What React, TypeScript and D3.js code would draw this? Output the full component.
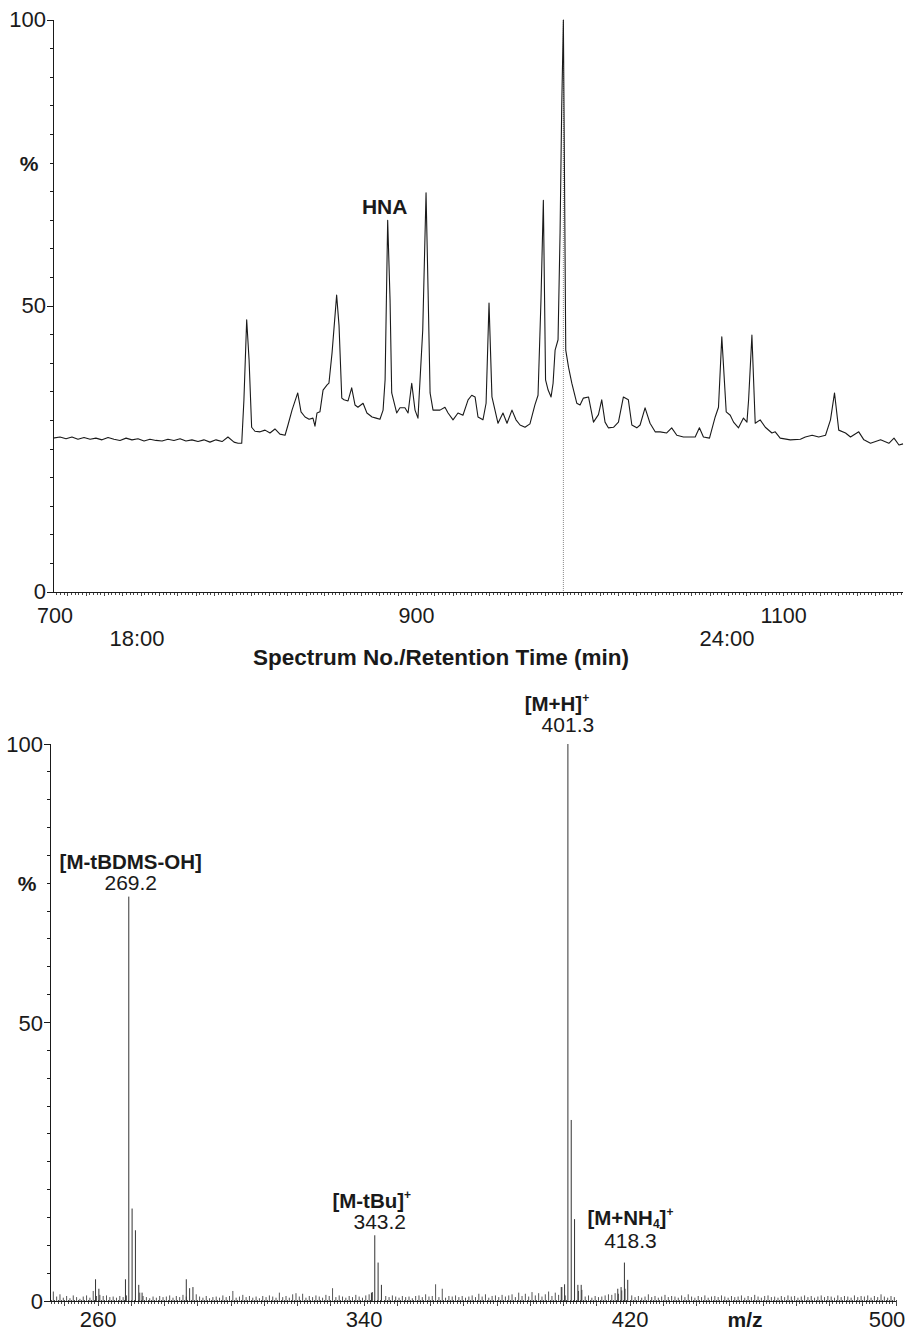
import React, { useEffect, useRef } from 'react';
import * as d3 from 'd3';

// chromatogram: [spectrum no., %]
const CHROM_TRACE: [number, number][] = [
  [702.0, 26.9], [705.8, 27.1], [709.1, 26.8], [712.3, 27.1], [715.6, 26.7], [718.9, 27.0],
  [722.2, 26.7], [725.4, 26.9], [728.7, 26.6], [732.0, 27.0], [735.2, 26.7], [738.5, 26.5],
  [741.8, 26.9], [745.0, 26.6], [748.3, 26.8], [751.6, 26.4], [754.8, 26.7], [758.1, 26.5],
  [761.4, 26.4], [764.6, 26.7], [767.9, 26.5], [771.2, 26.8], [774.4, 26.4], [777.7, 26.6],
  [781.0, 26.3], [784.2, 26.6], [787.5, 26.2], [790.8, 26.6], [794.1, 26.3], [797.3, 27.1],
  [800.6, 26.2], [802.8, 26.0], [804.8, 26.0], [806.0, 33.6], [807.5, 47.6], [808.8, 40.6],
  [810.2, 28.8], [812.0, 28.1], [814.8, 28.0], [817.5, 28.3], [820.2, 27.8], [822.9, 28.5],
  [825.6, 27.6], [828.4, 27.4], [830.0, 29.2], [832.2, 31.8], [835.3, 34.8], [837.1, 31.5],
  [839.3, 30.6], [841.5, 30.2], [843.6, 30.4], [844.7, 29.0], [845.8, 31.3], [847.4, 31.5],
  [849.1, 35.3], [851.3, 36.2], [852.3, 36.5], [854.0, 41.8], [856.5, 51.9], [857.8, 46.6],
  [859.3, 33.9], [860.5, 33.6], [862.7, 33.4], [864.7, 35.7], [866.5, 32.7], [868.1, 32.3],
  [870.9, 33.0], [873.0, 31.3], [875.8, 30.6], [878.0, 30.4], [880.1, 30.2], [881.8, 31.8],
  [882.9, 37.1], [884.3, 65.0], [885.6, 51.0], [886.5, 34.8], [889.2, 31.3], [891.0, 32.2],
  [893.7, 32.2], [895.4, 31.3], [897.4, 36.5], [899.2, 31.8], [900.8, 30.4], [903.4, 45.8],
  [905.2, 69.8], [906.3, 52.8], [907.4, 34.8], [909.0, 31.8], [912.8, 31.8], [915.5, 32.3],
  [917.2, 31.3], [919.9, 30.1], [922.6, 31.3], [925.3, 30.9], [928.1, 33.6], [930.1, 34.4],
  [931.9, 34.1], [933.5, 30.6], [936.2, 30.1], [937.9, 33.0], [939.5, 50.5], [941.1, 34.1],
  [944.4, 29.5], [947.1, 31.3], [949.3, 29.5], [952.0, 31.8], [954.2, 30.1], [956.4, 29.2],
  [959.1, 28.8], [961.8, 29.4], [964.5, 32.7], [966.2, 34.4], [967.8, 51.0], [969.1, 68.5],
  [970.3, 37.1], [971.7, 35.3], [973.3, 34.1], [974.4, 36.5], [975.5, 42.3], [977.1, 44.1],
  [978.2, 62.8], [979.1, 84.8], [980.0, 100], [981.3, 42.3], [982.8, 39.3], [984.6, 36.5],
  [987.3, 33.0], [989.1, 32.7], [990.9, 33.9], [993.7, 34.1], [996.4, 29.7], [999.1, 31.0],
  [1000.9, 33.6], [1002.7, 29.7], [1004.5, 28.7], [1007.3, 28.8], [1010.0, 29.7], [1012.7, 34.1],
  [1015.4, 33.6], [1017.3, 29.2], [1020.0, 28.7], [1021.8, 29.2], [1024.5, 32.2], [1027.2, 29.5],
  [1030.0, 28.0], [1032.7, 28.0], [1036.3, 27.8], [1039.0, 28.7], [1041.8, 27.4], [1045.4, 27.1],
  [1049.0, 27.1], [1051.8, 27.1], [1054.1, 28.7], [1056.3, 27.1], [1059.6, 26.9], [1062.7, 30.6],
  [1064.5, 32.3], [1066.3, 44.6], [1068.7, 31.5], [1070.9, 30.9], [1072.7, 29.7], [1075.4, 28.7],
  [1078.1, 30.4], [1080.0, 29.7], [1080.9, 33.6], [1082.7, 44.9], [1084.5, 29.5], [1087.2, 30.1],
  [1090.0, 28.8], [1093.6, 27.8], [1095.4, 28.0], [1098.1, 26.9], [1103.6, 26.6], [1109.1, 26.7],
  [1111.8, 27.1], [1115.5, 27.4], [1119.1, 27.1], [1122.8, 27.4], [1125.5, 30.1], [1127.7, 34.8],
  [1130.0, 28.3], [1133.7, 27.8], [1136.4, 27.1], [1140.9, 28.0], [1143.7, 26.6], [1147.3, 26.0],
  [1152.8, 26.6], [1157.3, 26.0], [1160.1, 26.9], [1162.8, 25.7], [1165.0, 25.9],
];

const SCAN_TICKS = [700, 900, 1100];
const TIME_TICKS = [18, 24];
const PCT_TICKS = [0, 50, 100];
const HNA_SCAN = 884.3;
const APEX_SCAN = 980.0;

// mass spectrum, labelled and satellite ions: [m/z, %]
const MS_PEAKS: [number, number][] = [
  [259.2, 3.9], [260.2, 2.2], [268.2, 3.9], [269.2, 72.6], [270.2, 16.6], [271.2, 12.7],
  [272.2, 2.9], [273.2, 1.5], [286.5, 3.9], [287.5, 2.3], [288.5, 2.5], [342.2, 1.5],
  [343.2, 11.8], [344.2, 6.9], [345.2, 2.9], [399.3, 2.5], [400.3, 3.0], [401.3, 100],
  [402.3, 32.5], [403.3, 14.7], [404.3, 2.9], [405.3, 2.9], [416.3, 2.2], [417.3, 2.5],
  [418.3, 6.9], [419.3, 3.8],
];

// baseline noise, one value per nominal mass from 246 to 499
const NOISE_START = 246;
const MS_NOISE = [
  1.7, 0.8, 1.2, 0.6,
  0.9, 0.5, 1.0, 0.7, 0.4, 0.8, 1.0, 0.6, 1.8, 0.9,
  1.1, 0.9, 1.0, 0.7, 0.8, 0.6, 0.9, 0.7, 1.0, 0.0,
  0.0, 0.0, 1.5, 0.9, 0.7, 0.5, 0.8, 0.6, 0.9, 0.7,
  0.8, 1.0, 0.6, 0.9, 0.7, 1.1, 0.8, 0.0, 0.0, 1.2,
  0.8, 0.6, 0.9, 0.5, 0.7, 0.8, 0.6, 1.0, 0.7, 0.9,
  1.8, 0.6, 0.8, 1.1, 0.7, 0.9, 0.6, 0.8, 0.5, 0.9,
  0.7, 1.0, 0.8, 0.6, 1.5, 0.7, 0.9, 0.6, 1.2, 1.4,
  0.8, 1.3, 0.6, 0.9, 0.7, 1.0, 0.8, 0.6, 1.1, 0.9,
  2.3, 0.7, 1.0, 0.8, 0.6, 0.9, 0.7, 1.1, 0.8, 0.6,
  1.0, 1.2, 1.6, 0.0, 0.0, 0.0, 0.9, 0.7, 1.0, 0.8,
  0.6, 0.9, 0.7, 0.8, 0.5, 0.9, 1.0, 0.7, 1.2, 0.8,
  0.9, 3.0, 0.7, 2.2, 0.6, 0.9, 0.8, 1.0, 0.7, 0.9,
  0.6, 0.8, 1.0, 0.7, 1.3, 0.8, 1.2, 0.6, 0.9, 1.0,
  0.7, 1.1, 0.8, 1.0, 1.2, 0.7, 1.5, 0.9, 1.3, 0.8,
  1.6, 1.0, 1.4, 0.8, 1.2, 1.7, 0.9, 1.5, 1.1, 2.5,
  1.0, 0.0, 0.0, 0.0, 1.8, 2.0, 0.8, 1.0, 0.6, 0.9,
  0.7, 0.8, 1.0, 1.2, 1.1, 1.4, 1.3, 1.9, 2.2, 0.0,
  1.0, 0.7, 0.9, 0.6, 0.8, 1.2, 0.7, 0.9, 0.6, 0.8,
  1.1, 0.7, 0.9, 0.8, 0.6, 1.0, 0.7, 1.2, 0.8, 0.6,
  0.9, 0.7, 1.0, 0.6, 0.8, 0.9, 0.7, 1.0, 0.8, 0.6,
  0.9, 0.7, 0.8, 1.0, 0.6, 0.9, 0.7, 1.1, 0.8, 0.6,
  0.9, 1.0, 0.7, 0.8, 0.6, 0.9, 0.7, 1.0, 0.8, 0.9,
  0.6, 0.8, 1.0, 0.7, 0.9, 0.6, 0.8, 1.0, 0.7, 0.9,
  0.8, 0.6, 1.0, 0.7, 0.9, 0.8, 0.6, 1.0, 0.7, 0.9,
  0.8, 1.0, 0.6, 0.9, 0.7, 1.2, 0.8, 0.6, 0.9, 0.7,
];
const MZ_TICKS = [260, 340, 420, 500];

const FONT = '"Liberation Sans", Arial, sans-serif';
const INK = '#1a1a1a';

const App = () => {
  const ref = useRef<SVGSVGElement | null>(null);

  useEffect(() => {
    const svg = d3.select(ref.current);
    svg.selectAll('*').remove();

    const text = (x: number, y: number, s: string, size = 22, anchor = 'middle', bold = false) =>
      svg.append('text')
        .attr('x', x).attr('y', y)
        .attr('text-anchor', anchor)
        .attr('font-family', FONT)
        .attr('font-size', size)
        .attr('font-weight', bold ? 'bold' : 'normal')
        .attr('fill', INK)
        .text(s);

    // ---------- top: chromatogram ----------
    const x1 = d3.scaleLinear().domain([702, 1165]).range([53, 903]);
    const t1 = d3.scaleLinear().domain([17.146, 25.79]).range([53, 903]);
    const y1 = d3.scaleLinear().domain([0, 100]).range([592, 20]);

    const g1 = svg.append('g').attr('stroke', INK).attr('stroke-width', 1).attr('shape-rendering', 'crispEdges');
    g1.append('line').attr('x1', x1.range()[0]).attr('x2', x1.range()[0]).attr('y1', y1(100)).attr('y2', y1(0));
    g1.append('line').attr('x1', x1.range()[0]).attr('x2', x1.range()[1]).attr('y1', y1(0)).attr('y2', y1(0));
    d3.range(0, 101, 5).forEach((v) => {
      const len = v % 50 === 0 ? 6 : 3;
      g1.append('line').attr('x1', x1.range()[0] - len).attr('x2', x1.range()[0]).attr('y1', y1(v)).attr('y2', y1(v));
    });
    d3.range(704, 1165, 2).forEach((s) => {
      const len = s % 10 === 0 ? 4 : 2.5;
      g1.append('line').attr('x1', x1(s)).attr('x2', x1(s)).attr('y1', y1(0)).attr('y2', y1(0) + len).attr('stroke-width', 0.8);
    });

    // apex marker
    svg.append('line')
      .attr('x1', x1(APEX_SCAN)).attr('x2', x1(APEX_SCAN))
      .attr('y1', y1(100)).attr('y2', y1(0))
      .attr('stroke', '#888').attr('stroke-width', 1).attr('stroke-dasharray', '1,1');

    const line = d3.line<[number, number]>().x((d) => x1(d[0])).y((d) => y1(d[1]));
    svg.append('path').datum(CHROM_TRACE)
      .attr('fill', 'none').attr('stroke', INK).attr('stroke-width', 1.1)
      .attr('stroke-linejoin', 'round').attr('d', line);

    PCT_TICKS.forEach((v) => text(x1.range()[0] - 7, y1(v) + 7, String(v), 22, 'end'));
    text(29, y1(75) + 8, '%', 21, 'middle', true);
    SCAN_TICKS.forEach((s) => text(Math.max(x1(s), 55), 623, String(s), 21.5));
    TIME_TICKS.forEach((m) => text(t1(m), 646, `${m}:00`, 22));
    text(441, 665, 'Spectrum No./Retention Time (min)', 22.5, 'middle', true);
    text(x1(HNA_SCAN) - 3, y1(65) - 6, 'HNA', 21, 'middle', true);

    // ---------- bottom: mass spectrum ----------
    const x2 = d3.scaleLinear().domain([245.5, 500]).range([50, 896]);
    const y2 = d3.scaleLinear().domain([0, 100]).range([1301, 744]);

    const g2 = svg.append('g').attr('stroke', INK).attr('stroke-width', 1).attr('shape-rendering', 'crispEdges');
    g2.append('line').attr('x1', x2.range()[0]).attr('x2', x2.range()[0]).attr('y1', y2(100)).attr('y2', y2(0));
    g2.append('line').attr('x1', x2.range()[0]).attr('x2', x2.range()[1]).attr('y1', y2(0)).attr('y2', y2(0));
    d3.range(0, 101, 5).forEach((v) => {
      const len = v % 50 === 0 ? 6 : 3;
      g2.append('line').attr('x1', x2.range()[0] - len).attr('x2', x2.range()[0]).attr('y1', y2(v)).attr('y2', y2(v));
    });
    d3.range(246, 501, 1).forEach((m) => {
      const len = m % 10 === 0 ? 5 : 3;
      g2.append('line').attr('x1', x2(m)).attr('x2', x2(m)).attr('y1', y2(0) - 1).attr('y2', y2(0) + len).attr('stroke-width', 0.8);
    });

    const sticks = svg.append('g').attr('stroke', '#333').attr('stroke-width', 1);
    MS_NOISE.forEach((v, i) => {
      if (v <= 0) return;
      const mz = NOISE_START + i + 0.5;
      sticks.append('line').attr('x1', x2(mz)).attr('x2', x2(mz)).attr('y1', y2(0)).attr('y2', y2(v)).attr('stroke', '#555');
    });
    MS_PEAKS.forEach(([mz, v]) => {
      sticks.append('line').attr('x1', x2(mz)).attr('x2', x2(mz)).attr('y1', y2(0)).attr('y2', y2(v));
    });

    PCT_TICKS.forEach((v) => text(x2.range()[0] - 7, y2(v) + 8, String(v), 22, 'end'));
    text(27, y2(75) + 8, '%', 21, 'middle', true);
    MZ_TICKS.forEach((m) => text(Math.min(x2(m), 887), 1327, String(m), 22));
    text(745, 1327, 'm/z', 21, 'middle', true);

    // peak annotations
    const ion = (mz: number, pct: number, head: string, sub: string | null, sup: boolean, dxHead: number, dxNum: number, gapNum: number, gapHead = 21) => {
      const px = x2(mz);
      const top = y2(pct);
      text(px + dxNum, top - gapNum, mz.toFixed(1), 21);
      const t = svg.append('text')
        .attr('x', px + dxHead).attr('y', top - gapNum - gapHead)
        .attr('text-anchor', 'middle')
        .attr('font-family', FONT).attr('font-size', 20.5).attr('font-weight', 'bold').attr('fill', INK);
      if (sub) {
        const [a, b] = head.split('|');
        t.append('tspan').text(a);
        t.append('tspan').attr('font-size', 12).attr('dy', 3).text(sub);
        t.append('tspan').attr('dy', -3).text(b);
      } else {
        t.append('tspan').text(head);
      }
      if (sup) t.append('tspan').attr('font-size', 12).attr('dy', -9).text('+');
    };
    ion(269.2, 72.6, '[M-tBDMS-OH]', null, false, 2, 2, 7);
    ion(343.2, 11.8, '[M-tBu]', null, true, -3, 5, 6);
    ion(401.3, 100, '[M+H]', null, true, -11, 0, 12);
    ion(418.3, 6.9, '[M+NH|]', '4', true, 6, 6, 15, 23);
  }, []);

  return (
    <svg
      ref={ref}
      width={907}
      height={1332}
      style={{ position: 'absolute', left: 0, top: 0, background: '#fff' }}
    />
  );
};

export default App;
